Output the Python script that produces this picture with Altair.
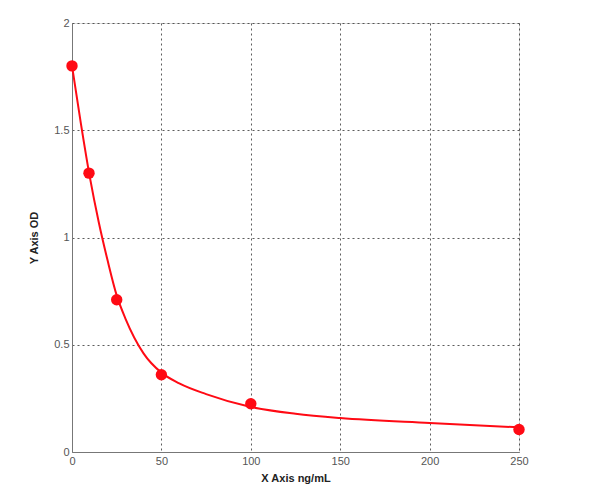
import altair as alt
import pandas as pd

# measured standard points
conc = [0, 9.5, 25, 50, 100, 250]
od = [1.80, 1.30, 0.71, 0.36, 0.225, 0.105]

# fitted curve
curve_x = [0, 5, 10, 15, 20, 25, 30, 40, 50, 60, 75, 100, 125, 150, 200, 250]
curve_y = [1.80, 1.53, 1.28, 1.07, 0.89, 0.73, 0.62, 0.46, 0.37, 0.32, 0.27, 0.21, 0.178, 0.158, 0.135, 0.115]

x_ticks = [0, 50, 100, 150, 200, 250]
y_ticks = [0, 0.5, 1, 1.5, 2]

pts = pd.DataFrame({"x": conc, "y": od})
cur = pd.DataFrame({"x": curve_x, "y": curve_y})

RED = "#ff0a14"

xscale = alt.Scale(domain=[0, 250], nice=False, zero=False)
yscale = alt.Scale(domain=[0, 2], nice=False)

xaxis = alt.Axis(values=x_ticks, title="X Axis ng/mL", grid=True, gridDash=[2, 3],
                 gridColor="#333333", gridOpacity=0.8, ticks=False, labelPadding=3,
                 labelFlush=False, format="d",
                 labelColor="#555555", labelFontSize=11, labelFont="Liberation Sans",
                 titleFont="Liberation Sans", titleFontSize=11, titleFontWeight="bold",
                 titleColor="#222222", titlePadding=6, domainColor="#777777")
yaxis = alt.Axis(values=y_ticks, title="Y Axis OD", grid=True, gridDash=[2, 3],
                 gridColor="#333333", gridOpacity=0.8, ticks=False, labelPadding=3,
                 labelFlush=False, format="~g",
                 labelColor="#555555", labelFontSize=11, labelFont="Liberation Sans",
                 titleFont="Liberation Sans", titleFontSize=11, titleFontWeight="bold",
                 titleColor="#222222", titlePadding=14, domainColor="#777777")

line = alt.Chart(cur).mark_line(color=RED, strokeWidth=2, interpolate="monotone").encode(
    x=alt.X("x:Q", scale=xscale, axis=xaxis),
    y=alt.Y("y:Q", scale=yscale, axis=yaxis),
)

points = alt.Chart(pts).mark_circle(color=RED, size=130, opacity=1).encode(
    x=alt.X("x:Q", scale=xscale),
    y=alt.Y("y:Q", scale=yscale),
)

chart = alt.layer(line, points).properties(
    width=447, height=429,
    autosize=alt.AutoSizeParams(type="none"),
    padding={"left": 64, "top": 15, "right": 60, "bottom": 40},
).configure_view(stroke="#222222", strokeWidth=1.5).configure(background="white")

chart.save("out.html", embed_options={"renderer": "svg", "actions": False})
